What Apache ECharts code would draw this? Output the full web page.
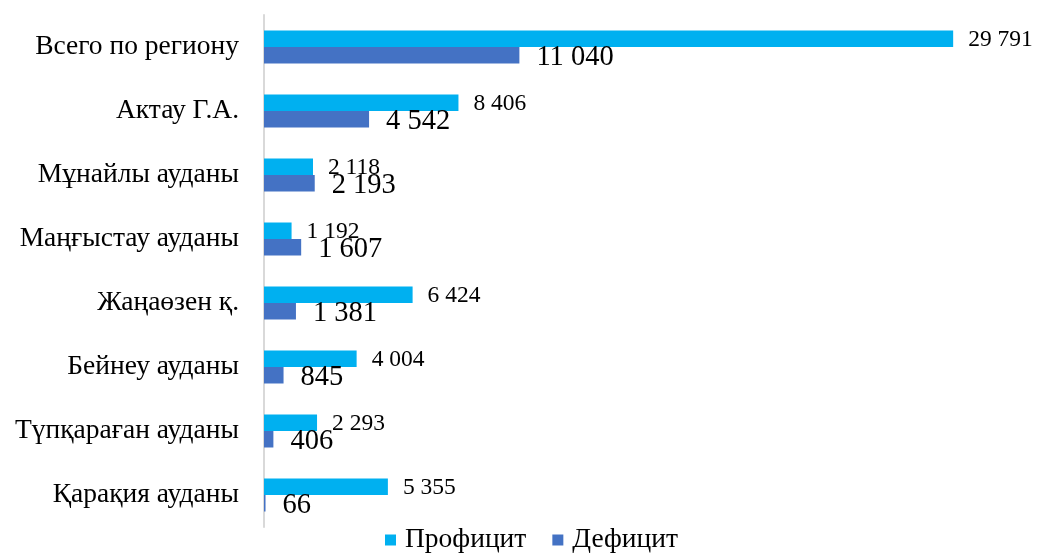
<!DOCTYPE html>
<html>
<head>
<meta charset="utf-8">
<script src="https://cdn.jsdelivr.net/npm/echarts@6/dist/echarts.min.js"></script>
<style>
  html, body { margin: 0; padding: 0; background: #fff; }
  #chart { width: 1037px; height: 557px; }
</style>
</head>
<body>
<div id="chart"></div>
<script>
// регионы сверху вниз
var regions = ['Всего по региону', 'Актау Г.А.', 'Мұнайлы ауданы', 'Маңғыстау ауданы',
  'Жаңаөзен қ.', 'Бейнеу ауданы', 'Түпқараған ауданы', 'Қарақия ауданы']
var profit = [29791, 8406, 2118, 1192, 6424, 4004, 2293, 5355]
var deficit = [11040, 4542, 2193, 1607, 1381, 845, 406, 66]

var fontFam = '"Liberation Serif", "Times New Roman", serif'

// 29791 -> "29 791"
function fmt(p) {
  return String(p.value).replace(/\B(?=(\d{3})+(?!\d))/g, ' ')
}

var chart = echarts.init(document.getElementById('chart'))
chart.setOption({
  animation: false,
  textStyle: { fontFamily: fontFam },
  grid: { left: 264, right: 79, top: 15, bottom: 30, containLabel: false },
  legend: {
    data: ['Профицит', 'Дефицит'],
    top: 521,
    left: 380,
    icon: 'rect',
    itemWidth: 11,
    itemHeight: 11,
    itemGap: 26,
    textStyle: { fontFamily: fontFam, fontSize: 27.5, color: '#000', padding: [0, 0, 0, 4] }
  },
  xAxis: {
    type: 'value',
    min: 0,
    max: 30000,
    show: false,
    splitLine: { show: false }
  },
  yAxis: {
    type: 'category',
    inverse: true,
    data: regions,
    axisLine: { show: true, lineStyle: { color: '#d9d9d9', width: 2 } },
    axisTick: { show: false },
    axisLabel: { color: '#000', fontSize: 27.5, fontFamily: fontFam, margin: 25 }
  },
  series: [
    {
      name: 'Профицит',
      type: 'bar',
      data: profit,
      barWidth: 16.5,
      barGap: '0%',
      barCategoryGap: '50%',
      itemStyle: { color: '#00b0f0' },
      label: {
        show: true,
        position: 'right',
        distance: 15,
        offset: [0, 1],
        formatter: fmt,
        color: '#000',
        fontSize: 23.5,
        fontFamily: fontFam
      }
    },
    {
      name: 'Дефицит',
      type: 'bar',
      data: deficit,
      barWidth: 16.5,
      barGap: '0%',
      itemStyle: { color: '#4472c4' },
      label: {
        show: true,
        position: 'right',
        distance: 17,
        offset: [0, 2],
        formatter: fmt,
        color: '#000',
        fontSize: 28.5,
        fontFamily: fontFam
      }
    }
  ]
})
</script>
</body>
</html>
